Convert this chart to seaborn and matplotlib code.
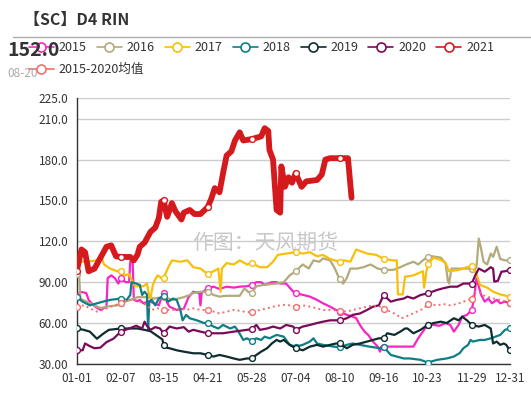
import numpy as np
import pandas as pd
import seaborn as sns
import matplotlib.pyplot as plt
from matplotlib.lines import Line2D

# x axis: day of year, labelled every 37 days (echarts style)
tick_days = [0, 37, 73, 110, 147, 184, 221, 258, 295, 332, 364]
tick_labels = ['01-01', '02-07', '03-15', '04-21', '05-28', '07-04',
               '08-10', '09-16', '10-23', '11-29', '12-31']
y_ticks = [30, 60, 90, 120, 150, 180, 210, 225]
y_tick_labels = ['30.00', '60.00', '90.00', '120.0', '150.0', '180.0', '210.0', '225.0']

# values
d15 = [0, 3, 8, 10, 14, 20, 25, 26, 29, 32, 35, 37, 41, 44, 45, 47, 48, 51, 53, 56,
       61, 65, 69, 71, 73, 76, 78, 84, 90, 94, 98, 103, 104, 105, 110, 115, 120, 126,
       132, 137, 143, 147, 151, 155, 158, 164, 168, 171, 176, 182, 184, 196, 202, 207,
       213, 218, 221, 227, 232, 235, 238, 242, 245, 249, 253, 255, 256, 258, 261, 283,
       287, 292, 295, 300, 305, 310, 314, 317, 321, 324, 328, 332, 334, 336, 338, 340,
       343, 346, 349, 353, 356, 360, 364]
v15 = [80, 83, 82, 77, 73, 69.6, 72, 93, 95, 93, 89, 93, 90, 90, 105, 105, 77, 76, 77, 74.5,
       76, 74.5, 73, 78, 82, 75, 72, 69.6, 70.5, 79, 83, 82, 73, 82, 85.5, 86.7, 85, 86.7,
       86, 86.7, 87, 88, 90, 90, 88, 90, 90, 89, 89, 83, 82, 79.4, 77, 74.5,
       72, 69.6, 68.4, 66, 64.7, 63.5, 58.6, 53.7, 51.3, 46.4, 42.7, 39, 42.7, 42.7, 42.7, 42.7,
       48.8, 55, 58.6, 58.6, 58, 60, 58.6, 53.7, 58.6, 64.7, 66, 69.6, 78, 92.8, 86.7, 80.6,
       75.7, 78, 74.5, 77, 74.5, 75.7, 74.5]

d16 = [0, 2, 3, 11, 20, 25, 34, 37, 45, 51, 59, 65, 73, 81, 90, 95, 98, 104, 110, 115,
       120, 126, 137, 141, 144, 147, 151, 157, 168, 174, 179, 184, 190, 195, 199, 204, 207,
       213, 217, 221, 224, 227, 230, 236, 241, 247, 253, 258, 266, 272, 277, 283, 287, 291,
       295, 299, 306, 310, 312, 313, 315, 321, 332, 334, 336, 338, 340, 342, 345, 348, 350,
       353, 356, 360, 364]
v16 = [96, 96, 78, 74.5, 71, 72, 73, 74.5, 77, 79, 79, 78, 79, 77, 79, 80.6, 82, 83, 83, 80.6,
       79.4, 80, 80, 85.5, 83, 82, 87, 88, 89, 90, 95, 98, 103, 100, 106, 105, 107.5,
       106, 100, 92, 89, 93, 100, 100, 101, 103, 100, 99, 99, 101, 103, 105, 103, 106,
       108.6, 109, 108, 104, 91, 89, 100, 100, 100, 99, 101, 122, 114, 105, 103, 111, 108.6,
       116, 107, 106, 106]

d17 = [0, 8, 17, 20, 23, 28, 34, 37, 41, 44, 46, 49, 56, 59, 61, 62, 64, 66, 68, 71,
       73, 77, 80, 87, 93, 98, 104, 110, 115, 119, 121, 122, 126, 132, 137, 143, 147, 154,
       160, 165, 169, 176, 184, 190, 196, 202, 207, 213, 221, 225, 230, 235, 244, 252, 258,
       266, 269, 270, 274, 276, 283, 291, 292, 294, 295, 300, 307, 310, 313, 321, 332, 336,
       339, 345, 350, 356, 361, 364]
v17 = [105, 105, 106, 110, 103, 100, 98, 98, 95, 96, 92, 87, 87, 89, 80, 78, 88, 92, 95, 93,
       93, 101, 106, 105, 106, 101, 100, 96, 98, 100, 83, 100, 104, 103, 106, 103, 104, 101,
       101, 105, 110, 111, 112, 111, 112, 109, 110, 107, 105, 106, 105, 114, 111, 110, 107,
       106, 106, 81, 81, 94, 95, 98, 86, 98, 103, 108, 106, 104, 98, 99, 102, 96,
       88, 86, 83, 81, 80, 79]

d18 = [0, 5, 11, 22, 28, 37, 42, 45, 46, 50, 53, 55, 57, 59, 60, 61, 63, 66, 69, 73,
       77, 81, 84, 87, 89, 92, 95, 101, 107, 110, 115, 119, 123, 129, 133, 136, 140, 143,
       147, 151, 155, 158, 162, 168, 174, 179, 184, 190, 196, 199, 202, 207, 216, 221, 227,
       232, 238, 246, 255, 258, 264, 269, 275, 280, 289, 295, 303, 311, 317, 322, 325, 329,
       331, 333, 339, 343, 348, 352, 356, 360, 364]
v18 = [79, 75.7, 73, 75.7, 77, 78, 77, 80.6, 90, 89, 88, 80.6, 83, 81, 55, 76, 77, 73, 78, 80,
       75.7, 78, 77, 70, 62, 66, 63.5, 62, 60, 60, 57.4, 56, 58.6, 56, 57.4, 53.7, 47.6, 48.8,
       47, 48.8, 47.6, 50, 48.8, 51.3, 50, 44, 42.7, 44, 46.4, 48.8, 45, 44, 42.7, 42.3, 44,
       45, 44, 42.7, 41.5, 42.5, 36.6, 35.4, 34, 34, 33, 31, 33, 34, 35.4, 38, 41.5, 44,
       47.6, 46.4, 47.6, 47.6, 48.8, 50, 51.3, 55, 56]

d19 = [0, 6, 11, 17, 22, 27, 37, 42, 51, 57, 62, 67, 72, 73, 75, 78, 84, 90, 98, 104,
       110, 115, 120, 126, 132, 137, 143, 147, 151, 155, 160, 164, 168, 171, 174, 179, 184,
       190, 196, 202, 207, 213, 218, 221, 227, 232, 238, 244, 249, 254, 258, 261, 267, 272,
       276, 278, 283, 289, 295, 300, 306, 311, 317, 321, 324, 328, 332, 338, 343, 348, 350,
       353, 356, 359, 361, 364]
v19 = [56, 55, 53.7, 48.5, 52, 55, 56, 56, 56, 55, 54, 51, 48, 44, 42, 41.5, 40, 39, 37.8, 37.8,
       36.6, 35.4, 36.6, 35.4, 34, 33, 34, 34, 36.6, 39, 41.5, 45, 47.6, 46.4, 47.6, 44, 41.5,
       40, 42.7, 44, 42.7, 44, 45, 45, 41.5, 44, 45, 46.4, 47.6, 48.8, 48.8, 52.5, 51.3, 53.7,
       56, 56, 52.5, 55, 58.6, 60, 61, 60, 63.5, 62, 64.7, 62, 58.6, 57.4, 58.6, 56, 45,
       46.4, 44, 45, 44, 40]

d20 = [0, 5, 7, 11, 15, 20, 25, 31, 37, 44, 50, 55, 57, 59, 62, 66, 70, 73, 78, 84,
       90, 94, 98, 104, 110, 123, 132, 143, 147, 151, 154, 160, 165, 171, 176, 182, 184,
       190, 196, 202, 207, 213, 221, 227, 232, 238, 244, 249, 254, 258, 264, 269, 275, 278,
       283, 289, 295, 303, 308, 314, 320, 325, 332, 335, 338, 343, 348, 350, 351, 354, 357,
       360, 364]
v20 = [40, 40, 45, 43, 41.5, 42, 46, 48.6, 53.7, 56, 58, 56, 61, 58, 55, 57, 56, 52.5, 57.4, 56,
       57, 53.7, 55, 53.7, 52.5, 52.5, 53.7, 55, 55.5, 58.6, 55, 56, 57.4, 56, 58.6, 57.4, 55,
       57.4, 58.6, 60, 61, 62, 62, 63.5, 66, 67, 69.6, 72, 73, 80.6, 75.7, 77, 78, 79.4,
       78, 80.6, 81.8, 84.3, 85.5, 86.7, 86.7, 89, 89, 95, 100, 97.7, 101, 100, 90.4, 91, 97.7,
       98, 99]

d21 = [0, 4, 7, 10, 15, 20, 25, 29, 33, 37, 45, 48, 51, 53, 57, 62, 66, 69, 71, 73,
       76, 80, 83, 88, 90, 95, 99, 104, 110, 113, 116, 120, 123, 126, 130, 133, 137, 140,
       147, 155, 158, 161, 162, 165, 168, 171, 172, 175, 178, 181, 184, 189, 193, 202, 206,
       209, 213, 218, 221, 228, 231]
v21 = [98, 114, 112, 98, 100, 108, 116, 117, 109, 108.5, 108.5, 106, 110, 116, 119, 127, 130, 137, 149, 150,
       138, 148, 142, 136, 141, 143, 140, 140, 145, 151, 159, 156, 170, 183, 186, 194, 200, 194,
       195, 197, 203, 201, 187, 180, 143, 141, 175, 160, 167, 163, 170, 160, 164, 165, 169,
       180, 181, 181, 181, 181, 152]

d_avg = [0, 6, 11, 17, 22, 28, 37, 42, 48, 53, 59, 63, 68, 73, 81, 87, 92, 98, 104, 110,
         115, 120, 126, 132, 137, 143, 147, 154, 160, 165, 171, 176, 184, 190, 196, 202, 207,
         213, 221, 227, 232, 238, 244, 249, 255, 258, 264, 269, 273, 276, 280, 286, 292, 295,
         303, 308, 314, 320, 325, 332, 335, 338, 341, 345, 350, 356, 361, 364]
v_avg = [72, 73, 70.8, 68.4, 69.6, 72, 74.5, 77, 77, 75.7, 73, 69.6, 70.8, 69.6, 69.6, 70.8, 69.6, 70.8, 69.6, 69.6,
         68.4, 67, 68.4, 69.6, 69, 68, 68, 69.6, 70.8, 72, 73, 73.5, 72, 73, 72, 70.8, 69.6,
         69.6, 69, 68.4, 69.6, 70.8, 72, 73, 72, 70, 68.4, 66, 63.5, 64.5, 66, 68.4, 70.8, 74,
         73, 74, 73, 74, 75.7, 78, 83, 83, 80.6, 79.4, 78, 77, 75.7, 75]

series = [
    ('2015', d15, v15, '#F626C3', 1.6, '-'),
    ('2016', d16, v16, '#B3AA7C', 1.6, '-'),
    ('2017', d17, v17, '#F8BF0A', 1.6, '-'),
    ('2018', d18, v18, '#0E7E86', 1.6, '-'),
    ('2019', d19, v19, '#0D2C2E', 1.6, '-'),
    ('2020', d20, v20, '#7A0A58', 1.6, '-'),
    ('2015-2020均值', d_avg, v_avg, '#F2706E', 1.4, ':'),
    ('2021', d21, v21, '#D51A1E', 4.2, '-'),
]
row1_names = ['2015', '2016', '2017', '2018', '2019', '2020', '2021']
row2_names = ['2015-2020均值']

sns.set_theme(style='white')
plt.rcParams['font.family'] = ['Noto Sans CJK SC', 'DejaVu Sans']

fig = plt.figure(figsize=(5.31, 3.93), dpi=100)
ax = fig.add_axes([0.1445, 0.074, 0.8155, 0.676])

for name, days, vals, color, lw, ls in series:
    df = pd.DataFrame({'day': days, 'value': vals})
    marks = np.isin(df['day'], tick_days)
    sns.lineplot(data=df, x='day', y='value', ax=ax, color=color, lw=lw,
                 linestyle=ls, marker='o', markevery=list(marks), ms=4.2,
                 mfc='white', mec=color, mew=1.0, legend=False,
                 zorder=5 if name == '2021' else 3)

ax.set_xlim(0, 364)
ax.set_ylim(30, 225)
ax.set_xticks(tick_days)
ax.set_xticklabels(tick_labels)
ax.set_yticks(y_ticks)
ax.set_yticklabels(y_tick_labels)
ax.set_xlabel('')
ax.set_ylabel('')
ax.tick_params(axis='both', labelsize=8.5, colors='#333333', length=4, width=1,
               direction='out', pad=2)
for s in ['top', 'right']:
    ax.spines[s].set_visible(False)
for s in ['left', 'bottom']:
    ax.spines[s].set_color('#333333')
    ax.spines[s].set_linewidth(1)
ax.grid(axis='y', color='#cccccc', lw=1)
ax.set_axisbelow(True)

# watermark
ax.text(0.435, 0.455, '作图：天风期货', transform=ax.transAxes, fontsize=15,
        color='#c8c8c8', ha='center', va='center', zorder=1)

# title and separator line
fig.text(0.045, 0.948, '【SC】D4 RIN', fontsize=11.5, fontweight='bold',
         color='#333333', va='center')
fig.add_artist(Line2D([0.025, 1.0], [0.906, 0.906], color='#aaaaaa', lw=1))

colors = {s[0]: s[3] for s in series}


def make_handles(names):
    return [Line2D([], [], color=colors[n], lw=1.2, marker='o', ms=6.5,
                   mfc='white', mec=colors[n], mew=1.2) for n in names]


leg_kw = dict(loc='center left', frameon=False, fontsize=9, handlelength=2.0,
              handletextpad=0.4, columnspacing=0.8, borderaxespad=0,
              borderpad=0, labelcolor='#333333')
leg1 = fig.legend(make_handles(row1_names), row1_names, ncol=7,
                  bbox_to_anchor=(0.054, 0.878), **leg_kw)
leg2 = fig.legend(make_handles(row2_names), row2_names, ncol=1,
                  bbox_to_anchor=(0.054, 0.822), **leg_kw)

# latest value label
fig.text(0.014, 0.872, '152.0', fontsize=14, fontweight='bold', color='#333333',
         va='center', zorder=10)
fig.text(0.014, 0.814, '08-20', fontsize=8.5, color='#aaaaaa', va='center', zorder=10)

fig.savefig('out.png', dpi=100)
